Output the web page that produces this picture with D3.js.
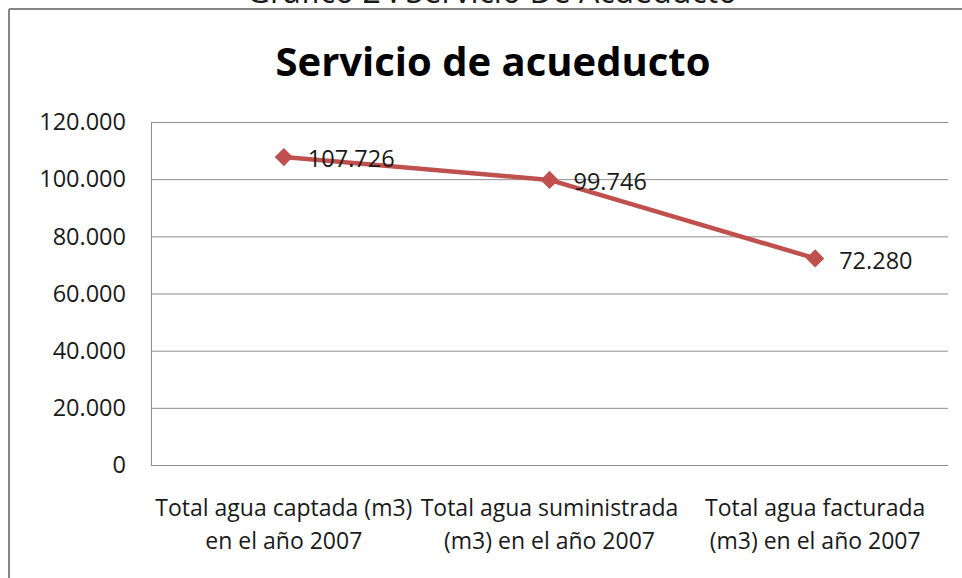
<!DOCTYPE html>
<html><head><meta charset="utf-8">
<script src="https://cdn.jsdelivr.net/npm/d3@7"></script>
<style>body{margin:0;background:#fff}svg{display:block}text{font-family:"Open Sans",sans-serif;fill:#1a1a1a}</style>
</head><body><svg id="c" width="962" height="578"></svg>
<script>
const categories = [
  ["Total agua captada (m3)", "en el año 2007"],
  ["Total agua suministrada", "(m3) en el año 2007"],
  ["Total agua facturada", "(m3) en el año 2007"]
];
const values = [107726, 99746, 72280];
const valueLabels = ["107.726", "99.746", "72.280"];
const yTicks = [0, 20000, 40000, 60000, 80000, 100000, 120000];
const yTickLabels = ["0", "20.000", "40.000", "60.000", "80.000", "100.000", "120.000"];
const title = "Servicio de acueducto";
const outerTitle = "Gráfico 2 : Servicio De Acueducto";

(function () {
const svg = d3.select("#c");
const pL = 151, pR = 948, pT = 122, pB = 465;
const x = d3.scalePoint().domain(d3.range(categories.length)).range([pL, pR]).padding(0.5);
const y = d3.scaleLinear().domain([0, 120000]).range([pB, pT]);

svg.append("text").attr("x", 492).attr("y", 3).attr("text-anchor", "middle")
  .style("font-size", "32px").text(outerTitle);

svg.append("line").attr("x1", 9).attr("x2", 962).attr("y1", 9).attr("y2", 9).attr("stroke", "#868686").attr("stroke-width", 2);
svg.append("line").attr("x1", 9).attr("x2", 9).attr("y1", 9).attr("y2", 578).attr("stroke", "#868686").attr("stroke-width", 2);

svg.append("text").attr("x", 493).attr("y", 76).attr("text-anchor", "middle")
  .style("font-size", "40px").style("font-weight", "bold").style("fill", "#000").text(title);

svg.append("g").selectAll("line").data(yTicks).join("line")
  .attr("x1", pL).attr("x2", pR).attr("y1", d => y(d) + 0.5).attr("y2", d => y(d) + 0.5)
  .attr("stroke", "#8c8c8c").attr("stroke-width", 1);
svg.append("line").attr("x1", pL + 0.5).attr("x2", pL + 0.5).attr("y1", pT).attr("y2", pB).attr("stroke", "#8c8c8c");

svg.append("g").selectAll("text").data(yTicks).join("text")
  .attr("x", 126).attr("y", d => y(d)).attr("dy", "0.35em").attr("text-anchor", "end")
  .style("font-size", "23.5px").text((d, i) => yTickLabels[i]);

const xl = svg.append("g").selectAll("text").data(categories).join("text")
  .attr("x", (d, i) => x(i)).attr("y", 516).attr("text-anchor", "middle").style("font-size", "23px");
xl.each(function(d, i) {
  d3.select(this).selectAll("tspan").data(d).join("tspan")
    .attr("x", x(i)).attr("dy", (t, j) => j === 0 ? 0 : 33).text(t => t);
});

const line = d3.line().x((d, i) => x(i)).y(d => y(d));
svg.append("path").datum(values).attr("d", line).attr("fill", "none")
  .attr("stroke", "#C0504D").attr("stroke-width", 4.5).attr("stroke-linejoin", "round");

svg.append("g").selectAll("path").data(values).join("path")
  .attr("transform", (d, i) => `translate(${x(i)},${y(d)})`)
  .attr("d", d3.symbol().type(d3.symbolDiamond2).size(210)).attr("fill", "#C0504D");

svg.append("g").selectAll("text").data(values).join("text")
  .attr("x", (d, i) => x(i) + 24).attr("y", d => y(d) + 2).attr("dy", "0.35em")
  .style("font-size", "23.5px").text((d, i) => valueLabels[i]);
})();
</script></body></html>
